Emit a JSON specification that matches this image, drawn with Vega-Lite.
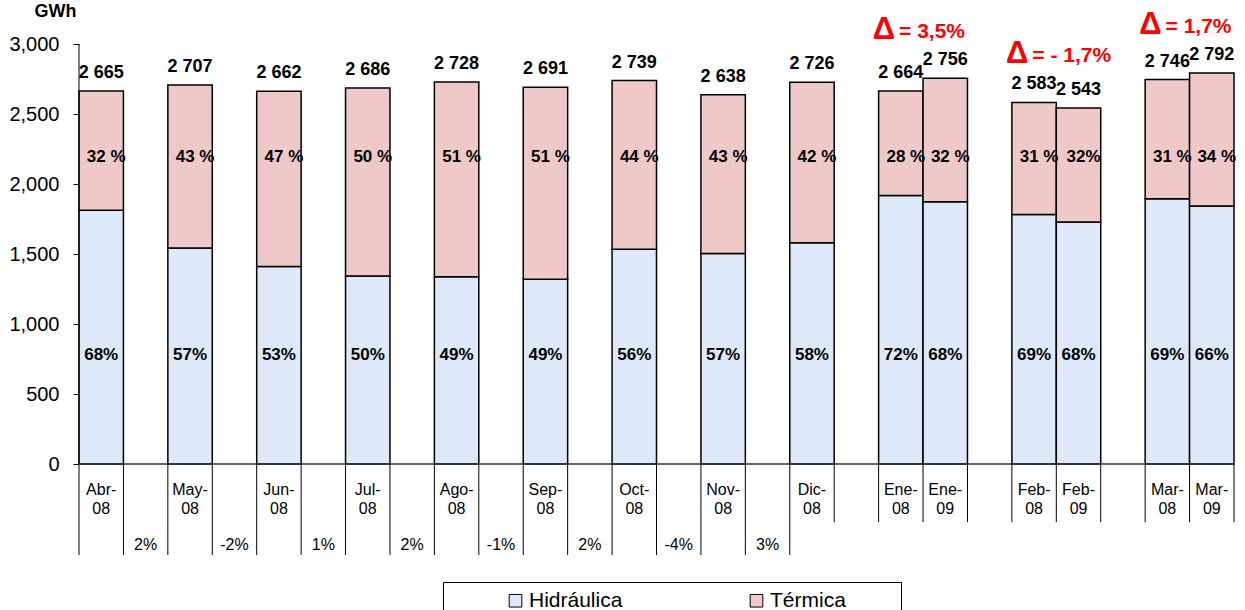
{
  "$schema": "https://vega.github.io/schema/vega-lite/v6.json",
  "width": 1155,
  "height": 511,
  "autosize": {"type": "none"},
  "padding": {"left": 79, "top": 44, "right": 11, "bottom": 55},
  "background": "white",
  "config": {
    "view": {"stroke": null},
    "font": "Liberation Sans",
    "text": {"font": "Liberation Sans", "color": "black"},
    "axisY": {"domain": false, "grid": false, "ticks": true, "tickSize": 6, "tickColor": "black", "tickWidth": 1,
              "labelFontSize": 20, "labelColor": "black", "labelFont": "Liberation Sans", "labelPadding": 14,
              "titleAngle": 0, "titleAlign": "center", "titleBaseline": "alphabetic",
              "titleX": -24, "titleY": -28, "titleFontSize": 18, "titleFontWeight": "bold", "titleFont": "Liberation Sans", "titleColor": "black"}
  },
  "datasets": {
    "bars": [
      {"slot": "s01", "lab": "Abr-\n08", "Hidráulica": 1812, "Térmica": 853, "total": 2665, "tot": "2 665", "hp": "68%", "tp": "32 %"},
      {"slot": "s03", "lab": "May-\n08", "Hidráulica": 1543, "Térmica": 1164, "total": 2707, "tot": "2 707", "hp": "57%", "tp": "43 %"},
      {"slot": "s05", "lab": "Jun-\n08", "Hidráulica": 1411, "Térmica": 1251, "total": 2662, "tot": "2 662", "hp": "53%", "tp": "47 %"},
      {"slot": "s07", "lab": "Jul-\n08", "Hidráulica": 1343, "Térmica": 1343, "total": 2686, "tot": "2 686", "hp": "50%", "tp": "50 %"},
      {"slot": "s09", "lab": "Ago-\n08", "Hidráulica": 1337, "Térmica": 1391, "total": 2728, "tot": "2 728", "hp": "49%", "tp": "51 %"},
      {"slot": "s11", "lab": "Sep-\n08", "Hidráulica": 1319, "Térmica": 1372, "total": 2691, "tot": "2 691", "hp": "49%", "tp": "51 %"},
      {"slot": "s13", "lab": "Oct-\n08", "Hidráulica": 1534, "Térmica": 1205, "total": 2739, "tot": "2 739", "hp": "56%", "tp": "44 %"},
      {"slot": "s15", "lab": "Nov-\n08", "Hidráulica": 1504, "Térmica": 1134, "total": 2638, "tot": "2 638", "hp": "57%", "tp": "43 %"},
      {"slot": "s17", "lab": "Dic-\n08", "Hidráulica": 1581, "Térmica": 1145, "total": 2726, "tot": "2 726", "hp": "58%", "tp": "42 %"},
      {"slot": "s19", "lab": "Ene-\n08", "Hidráulica": 1918, "Térmica": 746, "total": 2664, "tot": "2 664", "hp": "72%", "tp": "28 %"},
      {"slot": "s20", "lab": "Ene-\n09", "Hidráulica": 1874, "Térmica": 882, "total": 2756, "tot": "2 756", "hp": "68%", "tp": "32 %"},
      {"slot": "s22", "lab": "Feb-\n08", "Hidráulica": 1782, "Térmica": 801, "total": 2583, "tot": "2 583", "hp": "69%", "tp": "31 %"},
      {"slot": "s23", "lab": "Feb-\n09", "Hidráulica": 1729, "Térmica": 814, "total": 2543, "tot": "2 543", "hp": "68%", "tp": "32%"},
      {"slot": "s25", "lab": "Mar-\n08", "Hidráulica": 1895, "Térmica": 851, "total": 2746, "tot": "2 746", "hp": "69%", "tp": "31 %"},
      {"slot": "s26", "lab": "Mar-\n09", "Hidráulica": 1843, "Térmica": 949, "total": 2792, "tot": "2 792", "hp": "66%", "tp": "34 %"}
    ],
    "gaps": [
      {"slot": "s02", "pct": "2%"},
      {"slot": "s04", "pct": "-2%"},
      {"slot": "s06", "pct": "1%"},
      {"slot": "s08", "pct": "2%"},
      {"slot": "s10", "pct": "-1%"},
      {"slot": "s12", "pct": "2%"},
      {"slot": "s14", "pct": "-4%"},
      {"slot": "s16", "pct": "3%"}
    ],
    "deltas": [
      {"slot": "s20", "top": 2756, "val": "= 3,5%"},
      {"slot": "s23", "top": 2583, "val": "= - 1,7%"},
      {"slot": "s26", "top": 2792, "val": "= 1,7%"}
    ],
    "fullEdges": [
      {"slot": "s01"}, {"slot": "s02"}, {"slot": "s03"}, {"slot": "s04"}, {"slot": "s05"}, {"slot": "s06"},
      {"slot": "s07"}, {"slot": "s08"}, {"slot": "s09"}, {"slot": "s10"}, {"slot": "s11"}, {"slot": "s12"},
      {"slot": "s13"}, {"slot": "s14"}, {"slot": "s15"}, {"slot": "s16"}, {"slot": "s17"}
    ],
    "shortEdges": [
      {"slot": "s18"}, {"slot": "s19"}, {"slot": "s20"}, {"slot": "s21"}, {"slot": "s22"},
      {"slot": "s23"}, {"slot": "s24"}, {"slot": "s25"}, {"slot": "s26"}
    ]
  },
  "layer": [
    {
      "data": {"name": "bars"},
      "transform": [{"fold": ["Hidráulica", "Térmica"], "as": ["fuente", "gwh"]}],
      "mark": {"type": "bar", "stroke": "black", "strokeWidth": 1.5},
      "encoding": {
        "x": {"field": "slot", "type": "nominal", "axis": null,
              "scale": {"domain": ["s01","s02","s03","s04","s05","s06","s07","s08","s09","s10","s11","s12","s13","s14","s15","s16","s17","s18","s19","s20","s21","s22","s23","s24","s25","s26"], "paddingInner": 0, "paddingOuter": 0}},
        "y": {"field": "gwh", "type": "quantitative", "stack": "zero",
              "scale": {"domain": [-650, 3000], "nice": false, "zero": false},
              "axis": {"values": [0, 500, 1000, 1500, 2000, 2500, 3000], "format": ",.0f", "title": "GWh"}},
        "color": {"field": "fuente", "type": "nominal",
                  "scale": {"domain": ["Hidráulica", "Térmica"], "range": ["#dde9f8", "#efc8c8"]},
                  "legend": {"orient": "none", "legendX": 364, "legendY": 538, "direction": "horizontal",
                             "title": " ", "titleOrient": "right", "titlePadding": 47,
                             "fillColor": "white", "strokeColor": "black", "padding": 8,
                             "symbolType": "square", "symbolSize": 160, "symbolStrokeColor": "black", "symbolStrokeWidth": 1,
                             "symbolOffset": 54, "labelOffset": 3,
                             "labelFontSize": 21, "labelFont": "Liberation Sans", "labelColor": "black", "columnPadding": 69}},
        "order": {"field": "fuente", "type": "nominal"}
      }
    },
    {
      "data": {"name": "bars"},
      "mark": {"type": "text", "fontSize": 17, "fontWeight": "bold", "baseline": "middle"},
      "encoding": {
        "x": {"field": "slot", "type": "nominal", "axis": null,
              "scale": {"domain": ["s01","s02","s03","s04","s05","s06","s07","s08","s09","s10","s11","s12","s13","s14","s15","s16","s17","s18","s19","s20","s21","s22","s23","s24","s25","s26"], "paddingInner": 0, "paddingOuter": 0}},
        "y": {"datum": 780, "type": "quantitative", "scale": {"domain": [-650, 3000], "nice": false, "zero": false},
              "axis": {"values": [0, 500, 1000, 1500, 2000, 2500, 3000], "format": ",.0f", "title": "GWh"}},
        "text": {"field": "hp"}
      }
    },
    {
      "data": {"name": "bars"},
      "mark": {"type": "text", "fontSize": 17, "fontWeight": "bold", "baseline": "middle", "dx": 5},
      "encoding": {
        "x": {"field": "slot", "type": "nominal", "axis": null,
              "scale": {"domain": ["s01","s02","s03","s04","s05","s06","s07","s08","s09","s10","s11","s12","s13","s14","s15","s16","s17","s18","s19","s20","s21","s22","s23","s24","s25","s26"], "paddingInner": 0, "paddingOuter": 0}},
        "y": {"datum": 2190, "type": "quantitative", "scale": {"domain": [-650, 3000], "nice": false, "zero": false},
              "axis": {"values": [0, 500, 1000, 1500, 2000, 2500, 3000], "format": ",.0f", "title": "GWh"}},
        "text": {"field": "tp"}
      }
    },
    {
      "data": {"name": "bars"},
      "mark": {"type": "text", "fontSize": 18, "fontWeight": "bold", "baseline": "alphabetic", "dy": -13},
      "encoding": {
        "x": {"field": "slot", "type": "nominal", "axis": null,
              "scale": {"domain": ["s01","s02","s03","s04","s05","s06","s07","s08","s09","s10","s11","s12","s13","s14","s15","s16","s17","s18","s19","s20","s21","s22","s23","s24","s25","s26"], "paddingInner": 0, "paddingOuter": 0}},
        "y": {"field": "total", "type": "quantitative", "scale": {"domain": [-650, 3000], "nice": false, "zero": false},
              "axis": {"values": [0, 500, 1000, 1500, 2000, 2500, 3000], "format": ",.0f", "title": "GWh"}},
        "text": {"field": "tot"}
      }
    },
    {
      "data": {"name": "bars"},
      "mark": {"type": "text", "fontSize": 16, "baseline": "top", "lineBreak": "\n", "lineHeight": 19},
      "encoding": {
        "x": {"field": "slot", "type": "nominal", "axis": null,
              "scale": {"domain": ["s01","s02","s03","s04","s05","s06","s07","s08","s09","s10","s11","s12","s13","s14","s15","s16","s17","s18","s19","s20","s21","s22","s23","s24","s25","s26"], "paddingInner": 0, "paddingOuter": 0}},
        "y": {"datum": -129, "type": "quantitative", "scale": {"domain": [-650, 3000], "nice": false, "zero": false},
              "axis": {"values": [0, 500, 1000, 1500, 2000, 2500, 3000], "format": ",.0f", "title": "GWh"}},
        "text": {"field": "lab"}
      }
    },
    {
      "data": {"name": "gaps"},
      "mark": {"type": "text", "fontSize": 16, "baseline": "middle"},
      "encoding": {
        "x": {"field": "slot", "type": "nominal", "axis": null,
              "scale": {"domain": ["s01","s02","s03","s04","s05","s06","s07","s08","s09","s10","s11","s12","s13","s14","s15","s16","s17","s18","s19","s20","s21","s22","s23","s24","s25","s26"], "paddingInner": 0, "paddingOuter": 0}},
        "y": {"datum": -579, "type": "quantitative", "scale": {"domain": [-650, 3000], "nice": false, "zero": false},
              "axis": {"values": [0, 500, 1000, 1500, 2000, 2500, 3000], "format": ",.0f", "title": "GWh"}},
        "text": {"field": "pct"}
      }
    },
    {
      "data": {"name": "fullEdges"},
      "mark": {"type": "rule", "color": "black", "strokeWidth": 1},
      "encoding": {
        "x": {"field": "slot", "type": "nominal", "axis": null, "bandPosition": 0,
              "scale": {"domain": ["s01","s02","s03","s04","s05","s06","s07","s08","s09","s10","s11","s12","s13","s14","s15","s16","s17","s18","s19","s20","s21","s22","s23","s24","s25","s26"], "paddingInner": 0, "paddingOuter": 0}},
        "y": {"datum": 0, "type": "quantitative", "scale": {"domain": [-650, 3000], "nice": false, "zero": false},
              "axis": {"values": [0, 500, 1000, 1500, 2000, 2500, 3000], "format": ",.0f", "title": "GWh"}},
        "y2": {"datum": -650}
      }
    },
    {
      "data": {"name": "shortEdges"},
      "mark": {"type": "rule", "color": "black", "strokeWidth": 1},
      "encoding": {
        "x": {"field": "slot", "type": "nominal", "axis": null, "bandPosition": 0,
              "scale": {"domain": ["s01","s02","s03","s04","s05","s06","s07","s08","s09","s10","s11","s12","s13","s14","s15","s16","s17","s18","s19","s20","s21","s22","s23","s24","s25","s26"], "paddingInner": 0, "paddingOuter": 0}},
        "y": {"datum": 0, "type": "quantitative", "scale": {"domain": [-650, 3000], "nice": false, "zero": false},
              "axis": {"values": [0, 500, 1000, 1500, 2000, 2500, 3000], "format": ",.0f", "title": "GWh"}},
        "y2": {"datum": -415}
      }
    },
    {
      "data": {"values": [{"slot": "s26"}]},
      "mark": {"type": "rule", "color": "black", "strokeWidth": 1},
      "encoding": {
        "x": {"field": "slot", "type": "nominal", "axis": null, "bandPosition": 1,
              "scale": {"domain": ["s01","s02","s03","s04","s05","s06","s07","s08","s09","s10","s11","s12","s13","s14","s15","s16","s17","s18","s19","s20","s21","s22","s23","s24","s25","s26"], "paddingInner": 0, "paddingOuter": 0}},
        "y": {"datum": 0, "type": "quantitative", "scale": {"domain": [-650, 3000], "nice": false, "zero": false},
              "axis": {"values": [0, 500, 1000, 1500, 2000, 2500, 3000], "format": ",.0f", "title": "GWh"}},
        "y2": {"datum": -415}
      }
    },
    {
      "data": {"values": [{"slot": "s01"}]},
      "mark": {"type": "rule", "color": "black", "strokeWidth": 1},
      "encoding": {
        "x": {"field": "slot", "type": "nominal", "axis": null, "bandPosition": 0,
              "scale": {"domain": ["s01","s02","s03","s04","s05","s06","s07","s08","s09","s10","s11","s12","s13","s14","s15","s16","s17","s18","s19","s20","s21","s22","s23","s24","s25","s26"], "paddingInner": 0, "paddingOuter": 0}},
        "y": {"datum": 3000, "type": "quantitative", "scale": {"domain": [-650, 3000], "nice": false, "zero": false},
              "axis": {"values": [0, 500, 1000, 1500, 2000, 2500, 3000], "format": ",.0f", "title": "GWh"}},
        "y2": {"datum": 0}
      }
    },
    {
      "data": {"values": [{}]},
      "mark": {"type": "rule", "color": "#333333", "strokeWidth": 1.5},
      "encoding": {
        "y": {"datum": 0, "type": "quantitative", "scale": {"domain": [-650, 3000], "nice": false, "zero": false},
              "axis": {"values": [0, 500, 1000, 1500, 2000, 2500, 3000], "format": ",.0f", "title": "GWh"}}
      }
    },
    {
      "data": {"name": "deltas"},
      "mark": {"type": "text", "fontSize": 31, "fontWeight": "bold", "color": "#ff0000", "align": "right", "baseline": "middle", "dx": -28, "dy": -48},
      "encoding": {
        "x": {"field": "slot", "type": "nominal", "axis": null, "bandPosition": 0,
              "scale": {"domain": ["s01","s02","s03","s04","s05","s06","s07","s08","s09","s10","s11","s12","s13","s14","s15","s16","s17","s18","s19","s20","s21","s22","s23","s24","s25","s26"], "paddingInner": 0, "paddingOuter": 0}},
        "y": {"field": "top", "type": "quantitative", "scale": {"domain": [-650, 3000], "nice": false, "zero": false},
              "axis": {"values": [0, 500, 1000, 1500, 2000, 2500, 3000], "format": ",.0f", "title": "GWh"}},
        "text": {"value": "Δ"}
      }
    },
    {
      "data": {"name": "deltas"},
      "mark": {"type": "text", "fontSize": 21, "fontWeight": "bold", "color": "#ff0000", "align": "left", "baseline": "middle", "dx": -24, "dy": -46},
      "encoding": {
        "x": {"field": "slot", "type": "nominal", "axis": null, "bandPosition": 0,
              "scale": {"domain": ["s01","s02","s03","s04","s05","s06","s07","s08","s09","s10","s11","s12","s13","s14","s15","s16","s17","s18","s19","s20","s21","s22","s23","s24","s25","s26"], "paddingInner": 0, "paddingOuter": 0}},
        "y": {"field": "top", "type": "quantitative", "scale": {"domain": [-650, 3000], "nice": false, "zero": false},
              "axis": {"values": [0, 500, 1000, 1500, 2000, 2500, 3000], "format": ",.0f", "title": "GWh"}},
        "text": {"field": "val"}
      }
    }
  ]
}
